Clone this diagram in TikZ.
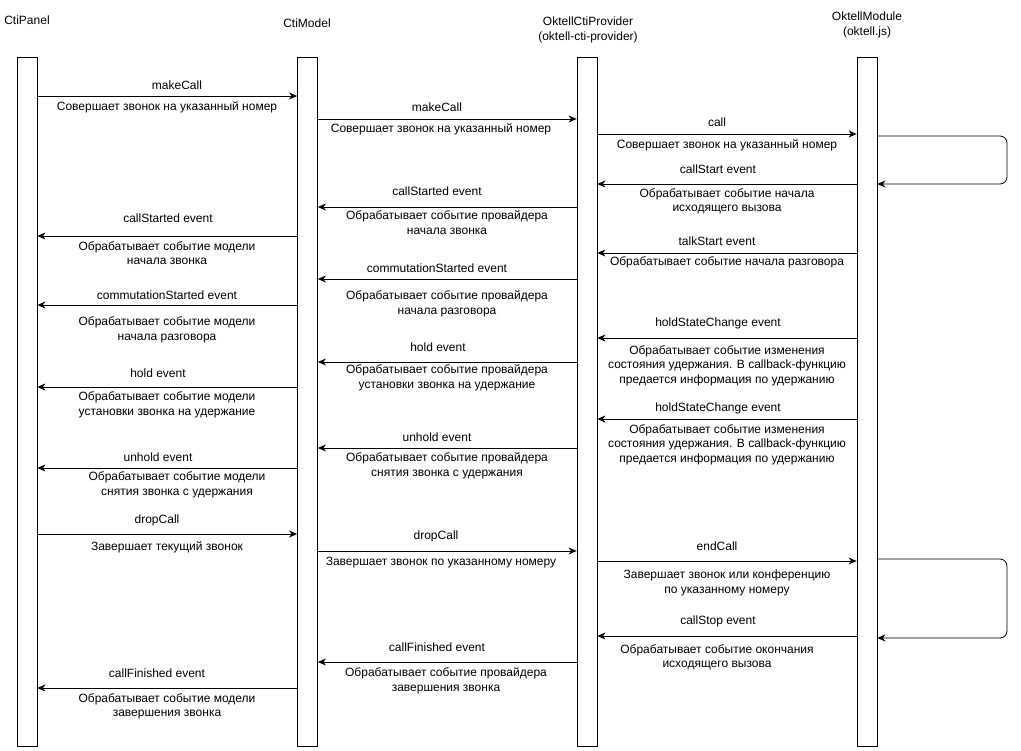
\documentclass[tikz,border=0pt]{standalone}
\usepackage{fontspec}
\setmainfont{Liberation Sans}
\usetikzlibrary{arrows.meta}

\begin{document}
\begin{tikzpicture}[
    x=1pt, y=-1pt,
    font=\fontsize{12}{14.5}\selectfont,
    life/.style={draw,line width=0.8pt,fill=white,minimum width=20pt,minimum height=689pt,inner sep=0pt},
    msg/.style={-{Stealth[length=8pt,width=7pt,inset=2.5pt]},line width=0.8pt},
    lbl/.style={inner sep=0pt,align=center}
]

\useasboundingbox (0,0) rectangle (1021,751);

% Lifelines
\node[life] (pnl) at (27,401.5) {};
\node[life] (mdl) at (307.5,401.5) {};
\node[life] (prv) at (587,401.5) {};
\node[life] (mod) at (867,401.5) {};

% Titles
\node[lbl] (tpnl) at (27,20) {CtiPanel};
\node[lbl] (tmdl) at (307,23) {CtiModel};
\node[lbl] (tprv) at (588,30) {OktellCtiProvider\\(oktell-cti-provider)};
\node[lbl] (tmod) at (867,25) {OktellModule\\(oktell.js)};

% makeCall
\draw[msg] (pnl.east |- 0,96) -- (mdl.west |- 0,96);
\node[lbl] (m1) at (177,85) {makeCall};
\node[lbl] (d1) at (167,107) {Совершает звонок на указанный номер};

\draw[msg] (mdl.east |- 0,119) -- (prv.west |- 0,119);
\node[lbl] (m2) at (437,107) {makeCall};
\node[lbl] (d2) at (441,129) {Совершает звонок на указанный номер};

% call
\draw[msg] (prv.east |- 0,134) -- (mod.west |- 0,134);
\node[lbl] (m3) at (717,122) {call};
\node[lbl] (d3) at (727,145) {Совершает звонок на указанный номер};

\draw[msg,rounded corners=7] (mod.east |- 0,136) -- (1007,136) |- (mod.east |- 0,184);

% callStart
\draw[msg] (mod.west |- 0,184) -- (prv.east |- 0,184);
\node[lbl] (m5) at (718,169) {callStart event};
\node[lbl] (d5) at (727,201.5) {Обрабатывает событие начала\\исходящего вызова};

% callStarted
\draw[msg] (prv.west |- 0,207) -- (mdl.east |- 0,207);
\node[lbl] (m6) at (437,191) {callStarted event};
\node[lbl] (d6) at (447,222.5) {Обрабатывает событие провайдера\\начала звонка};

\draw[msg] (mdl.west |- 0,236) -- (pnl.east |- 0,236);
\node[lbl] (m7) at (168,218) {callStarted event};
\node[lbl] (d7) at (167,253) {Обрабатывает событие модели\\начала звонка};

% talkStart
\draw[msg] (mod.west |- 0,253) -- (prv.east |- 0,253);
\node[lbl] (m8) at (717,241) {talkStart event};
\node[lbl] (d8) at (727,262) {Обрабатывает событие начала разговора};

% commutationStarted
\draw[msg] (prv.west |- 0,279) -- (mdl.east |- 0,279);
\node[lbl] (m9) at (437,268) {commutationStarted event};
\node[lbl] (d9) at (447,304) {Обрабатывает событие провайдера\\начала разговора};

\draw[msg] (mdl.west |- 0,305) -- (pnl.east |- 0,305);
\node[lbl] (m10) at (167,295) {commutationStarted event};
\node[lbl] (d10) at (167,330) {Обрабатывает событие модели\\начала разговора};

% holdStateChange
\draw[msg] (mod.west |- 0,338) -- (prv.east |- 0,338);
\node[lbl] (m11) at (718,323) {holdStateChange event};
\node[lbl] (d11) at (727,365.5) {Обрабатывает событие изменения\\состояния удержания. В callback-функцию\\предается информация по удержанию};

% hold
\draw[msg] (prv.west |- 0,362) -- (mdl.east |- 0,362);
\node[lbl] (m12) at (438,347) {hold event};
\node[lbl] (d12) at (447,378) {Обрабатывает событие провайдера\\установки звонка на удержание};

\draw[msg] (mdl.west |- 0,387) -- (pnl.east |- 0,387);
\node[lbl] (m13) at (158,373) {hold event};
\node[lbl] (d13) at (167,405) {Обрабатывает событие модели\\установки звонка на удержание};

\draw[msg] (mod.west |- 0,419) -- (prv.east |- 0,419);
\node[lbl] (m14) at (718,408) {holdStateChange event};
\node[lbl] (d14) at (727,444.5) {Обрабатывает событие изменения\\состояния удержания. В callback-функцию\\предается информация по удержанию};

% unhold
\draw[msg] (prv.west |- 0,448) -- (mdl.east |- 0,448);
\node[lbl] (m15) at (437,437) {unhold event};
\node[lbl] (d15) at (447,466) {Обрабатывает событие провайдера\\снятия звонка с удержания};

\draw[msg] (mdl.west |- 0,468) -- (pnl.east |- 0,468);
\node[lbl] (m16) at (158,457) {unhold event};
\node[lbl] (d16) at (177,485) {Обрабатывает событие модели\\снятия звонка с удержания};

% dropCall
\draw[msg] (pnl.east |- 0,534) -- (mdl.west |- 0,534);
\node[lbl] (m17) at (157,520) {dropCall};
\node[lbl] (d17) at (167,547) {Завершает текущий звонок};

\draw[msg] (mdl.east |- 0,551) -- (prv.west |- 0,551);
\node[lbl] (m18) at (436,536) {dropCall};
\node[lbl] (d18) at (441,563) {Завершает звонок по указанному номеру};

% endCall
\draw[msg] (prv.east |- 0,561) -- (mod.west |- 0,561);
\node[lbl] (m19) at (717,546) {endCall};
\node[lbl] (d19) at (727,583) {Завершает звонок или конференцию\\по указанному номеру};

\draw[msg,rounded corners=7] (mod.east |- 0,559) -- (1007,559) |- (mod.east |- 0,638);

% callStop
\draw[msg] (mod.west |- 0,636) -- (prv.east |- 0,636);
\node[lbl] (m21) at (718,621) {callStop event};
\node[lbl] (d21) at (717,657.5) {Обрабатывает событие окончания\\исходящего вызова};

% callFinished
\draw[msg] (prv.west |- 0,662) -- (mdl.east |- 0,662);
\node[lbl] (m22) at (437,647) {callFinished event};
\node[lbl] (d22) at (446,681) {Обрабатывает событие провайдера\\завершения звонка};

\draw[msg] (mdl.west |- 0,688) -- (pnl.east |- 0,688);
\node[lbl] (m23) at (157,673) {callFinished event};
\node[lbl] (d23) at (167,706.5) {Обрабатывает событие модели\\завершения звонка};

\end{tikzpicture}
\end{document}
